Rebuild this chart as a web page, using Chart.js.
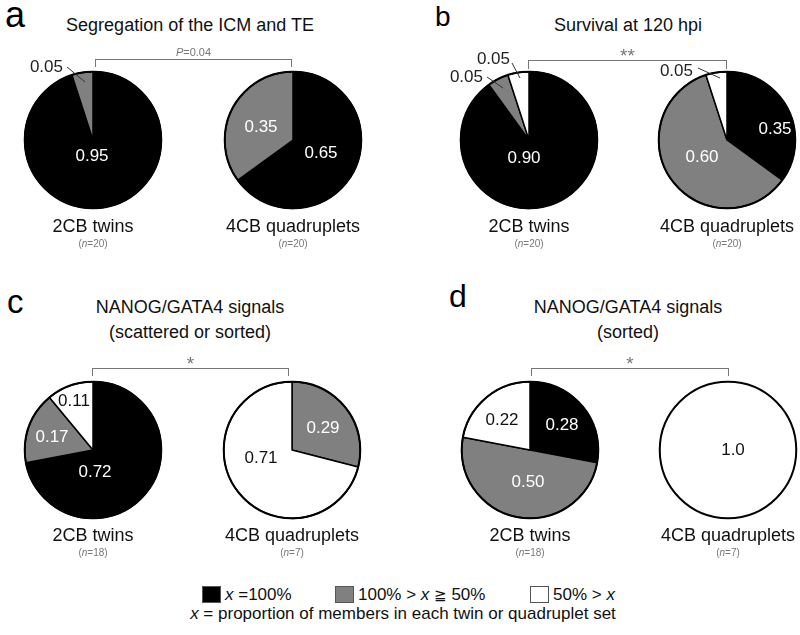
<!DOCTYPE html>
<html>
<head>
<meta charset="utf-8">
<script src="https://cdn.jsdelivr.net/npm/chart.js@4.4.1/dist/chart.umd.min.js"></script>
<style>
  html, body { margin: 0; padding: 0; background: #fff; overflow: hidden; }
  #page { position: relative; width: 800px; height: 635px; font-family: "Liberation Sans", Arial, sans-serif; color: #111; }
  .t { position: absolute; white-space: nowrap; line-height: 1; transform: translate(-50%, -50%); }
  .letter { position: absolute; line-height: 1; color: #000; }
  .small { color: #777; }
  .bracket { position: absolute; border: 1px solid #777; border-bottom: none; }
  .geq { font-family: "DejaVu Sans", "Noto Sans CJK JP", sans-serif; font-size: 15px; }
  canvas { position: absolute; }
  .sw { position: absolute; width: 17px; height: 15px; border: 1px solid #555; }
</style>
</head>
<body>
<div id="page"></div>
<script>
// categories (x = proportion of members in each set)
const slices = ['x = 100%', '100% > x ≧ 50%', '50% > x'];
const groups = ['2CB twins', '4CB quadruplets'];

// a: segregation of the ICM and TE
const segregTwins = [0.95, 0.05, 0];
const segregQuads = [0.65, 0.35, 0];
// b: survival at 120 hpi
const survivalTwins = [0.90, 0.05, 0.05];
const survivalQuads = [0.35, 0.60, 0.05];
// c: NANOG/GATA4 scattered or sorted
const scatterTwins = [0.72, 0.17, 0.11];
const scatterQuads = [0, 0.29, 0.71];
// d: NANOG/GATA4 sorted
const sortedTwins = [0.28, 0.50, 0.22];
const sortedQuads = [0, 0, 1.0];

const nTwins = [20, 20, 18, 18];
const nQuads = [20, 20, 7, 7];
const signif = ['<i>P</i>=0.04', '**', '*', '*'];

const sliceColors = ['#000000', '#808080', '#ffffff'];
const page = document.getElementById('page');

function fmt(v) {
  return v === 1 ? '1.0' : v.toFixed(2);
}

function text(html, x, y, size, cls) {
  const d = document.createElement('div');
  d.className = 't' + (cls ? ' ' + cls : '');
  d.style.left = x + 'px';
  d.style.top = y + 'px';
  d.style.fontSize = size + 'px';
  d.innerHTML = html;
  page.appendChild(d);
  return d;
}

// labels inside slices / outside with a leader line, drawn on the pie
const sliceLabels = {
  id: 'sliceLabels',
  afterDatasetsDraw(chart, args, opts) {
    const ctx = chart.ctx;
    const meta = chart.getDatasetMeta(0);
    const a0 = meta.data[0];
    const cx = a0.x, cy = a0.y, r = a0.outerRadius;
    const values = chart.data.datasets[0].data;

    // outer ring
    ctx.save();
    ctx.beginPath();
    ctx.arc(cx, cy, r, 0, Math.PI * 2);
    ctx.lineWidth = 2;
    ctx.strokeStyle = '#000';
    ctx.stroke();

    ctx.font = '17px "Liberation Sans", Arial, sans-serif';
    ctx.textBaseline = 'middle';
    opts.spots.forEach((s, i) => {
      if (!s || !values[i]) return;
      const label = fmt(values[i]);
      if (s.line) {
        ctx.beginPath();
        ctx.moveTo(cx + s.line[0], cy + s.line[1]);
        ctx.lineTo(cx + s.line[2], cy + s.line[3]);
        ctx.lineWidth = 1;
        ctx.strokeStyle = '#333';
        ctx.stroke();
        ctx.fillStyle = '#222';
        ctx.textAlign = 'right';
      } else {
        ctx.fillStyle = i === 2 ? '#111' : '#fff';
        ctx.textAlign = 'center';
      }
      ctx.fillText(label, cx + s.at[0], cy + s.at[1]);
    });
    ctx.restore();
  }
};

const SIZE = 200, RADIUS = 69;

function pie(values, cx, cy, spots) {
  const c = document.createElement('canvas');
  c.width = SIZE; c.height = SIZE;
  c.style.left = (cx - SIZE / 2) + 'px';
  c.style.top = (cy - SIZE / 2) + 'px';
  page.appendChild(c);
  new Chart(c, {
    type: 'pie',
    data: {
      labels: slices,
      datasets: [{
        data: values,
        backgroundColor: sliceColors,
        borderColor: '#000',
        borderWidth: (ctx) => (ctx.raw >= 1 ? 0 : 1.5),
      }],
    },
    options: {
      responsive: false,
      animation: false,
      layout: { padding: SIZE / 2 - RADIUS },
      plugins: {
        legend: { display: false },
        tooltip: { enabled: false },
        sliceLabels: { spots },
      },
    },
    plugins: [sliceLabels],
  });
}

// label placement, offsets from each pie's centre
pie(segregTwins, 93, 140, [
  { at: [-1, 16] },
  { at: [-30, -73], line: [-26, -73, -8, -58] },
]);
pie(segregQuads, 293, 140, [
  { at: [28, 13] },
  { at: [-32, -13] },
]);
pie(survivalTwins, 529, 140, [
  { at: [-5, 18] },
  { at: [-46, -63], line: [-42, -63, -26, -52] },
  { at: [-19, -81], line: [-17, -77, -9, -62] },
]);
pie(survivalQuads, 727, 140, [
  { at: [48, -11] },
  { at: [-25, 17] },
  { at: [-34, -69], line: [-29, -72, -7, -62] },
]);
pie(scatterTwins, 93, 450, [
  { at: [2, 22] },
  { at: [-41, -13] },
  { at: [-19, -49] },
]);
pie(scatterQuads, 292, 450, [
  null,
  { at: [31, -22] },
  { at: [-31, 8] },
]);
pie(sortedTwins, 530, 450, [
  { at: [32, -25] },
  { at: [-2, 32] },
  { at: [-28, -30] },
]);
pie(sortedQuads, 728, 450, [
  null, null,
  { at: [5, 0] },
]);

// panel letters
[['a', 5, -3.5, 36], ['b', 435, 3, 28], ['c', 7, 285, 33], ['d', 449, 280, 32]].forEach(([l, x, y, s]) => {
  const d = document.createElement('div');
  d.className = 'letter';
  d.style.left = x + 'px';
  d.style.top = y + 'px';
  d.style.fontSize = s + 'px';
  d.textContent = l;
  page.appendChild(d);
});

// titles
text('Segregation of the ICM and TE', 190, 25, 18);
text('Survival at 120 hpi', 628, 25, 18);
text('NANOG/GATA4 signals', 190, 307, 18);
text('(scattered or sorted)', 190, 332, 18);
text('NANOG/GATA4 signals', 628, 307, 18);
text('(sorted)', 628, 332, 18);

// group names under each pie
const pieX = [[93, 293], [529, 727], [93, 292], [530, 728]];
const rowY = [226, 226, 535, 535];
pieX.forEach((xs, p) => {
  text(groups[0], xs[0], rowY[p], 18);
  text(groups[1], xs[1], rowY[p], 18);
  text('(<i>n</i>=' + nTwins[p] + ')', xs[0], rowY[p] + 18, 10, 'small');
  text('(<i>n</i>=' + nQuads[p] + ')', xs[1], rowY[p] + 18, 10, 'small');
});

// significance brackets
const brackets = [[95, 292, 59, 7], [528, 727, 60, 8], [92, 289, 368, 7], [531, 729, 368, 7]];
brackets.forEach(([x0, x1, y, h], i) => {
  const b = document.createElement('div');
  b.className = 'bracket';
  b.style.left = x0 + 'px';
  b.style.top = y + 'px';
  b.style.width = (x1 - x0 - 2) + 'px';
  b.style.height = h + 'px';
  page.appendChild(b);
  if (i === 0) text(signif[i], (x0 + x1) / 2, y - 7, 11, 'small');
  else text(signif[i], (x0 + x1) / 2, y - 5, 19, 'small');
});

// legend
const legendText = ['<i>x</i> =100%', '100% &gt; <i>x</i> <span class="geq">≧</span> 50%', '50% &gt; <i>x</i>'];
const legendX = [202, 335, 530];
slices.forEach((s, i) => {
  const sw = document.createElement('div');
  sw.className = 'sw';
  sw.style.left = legendX[i] + 'px';
  sw.style.top = '586px';
  sw.style.background = sliceColors[i];
  page.appendChild(sw);
  const d = document.createElement('div');
  d.className = 't';
  d.style.transform = 'translate(0, -50%)';
  d.style.left = (legendX[i] + 23) + 'px';
  d.style.top = '594px';
  d.style.fontSize = '17px';
  d.innerHTML = legendText[i];
  page.appendChild(d);
});
text('<i>x</i> = proportion of members in each twin or quadruplet set', 403, 613, 17);
</script>
</body>
</html>
